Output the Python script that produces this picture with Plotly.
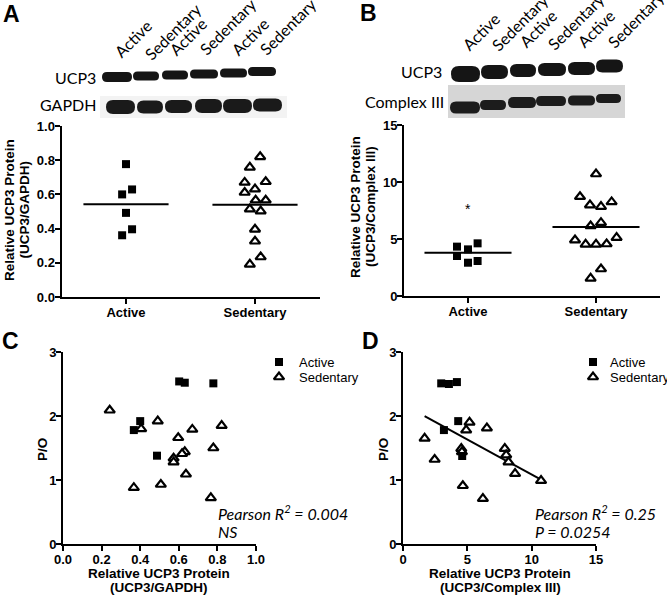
import numpy as np
import plotly.graph_objects as go

W, H = 667, 595

groups = ["Active", "Sedentary"]

# ---------------- Panel A : UCP3/GAPDH ----------------
a_active = [0.777, 0.600, 0.629, 0.492, 0.396, 0.361]
a_sed = [0.820, 0.758, 0.670, 0.674, 0.611, 0.631, 0.566, 0.566, 0.514, 0.502, 0.396, 0.326, 0.234, 0.191]
a_means = [0.543, 0.539]
a_active_off = [0.00, -0.03, 0.047, 0.00, 0.047, -0.03]
a_sed_off = [0.04, -0.04, -0.08, 0.083, -0.08, 0.0, 0.005, 0.083, -0.04, 0.044, 0.0, 0.0, 0.044, -0.04]

# ---------------- Panel B : UCP3/Complex III ----------------
b_active = [4.33, 4.09, 4.62, 3.51, 2.92, 3.07]
b_sed = [10.7, 8.71, 7.98, 7.84, 8.25, 6.43, 6.14, 4.91, 4.53, 4.53, 4.56, 5.12, 2.37, 1.55]
b_means = [3.80, 6.05]
b_star = 7.6
b_active_off = [-0.086, 0.0, 0.075, -0.086, 0.0, 0.075]
b_sed_off = [0.0, -0.125, -0.047, 0.039, 0.122, 0.039, -0.042, -0.164, -0.081, 0.0, 0.083, 0.161, 0.039, -0.042]

# ---------------- Panel C : P/O vs UCP3/GAPDH ----------------
c_active_x = [0.602, 0.631, 0.779, 0.400, 0.367, 0.487]
c_active_y = [2.54, 2.52, 2.51, 1.92, 1.78, 1.38]
c_sed_x = [0.242, 0.405, 0.491, 0.597, 0.670, 0.822, 0.631, 0.617, 0.573, 0.573, 0.779, 0.637, 0.507, 0.367, 0.766]
c_sed_y = [2.09, 1.80, 1.92, 1.66, 1.79, 1.85, 1.44, 1.41, 1.34, 1.28, 1.50, 1.09, 0.93, 0.88, 0.72]

# ---------------- Panel D : P/O vs UCP3/Complex III ----------------
d_active_x = [2.97, 3.57, 4.19, 4.29, 3.18, 4.60]
d_active_y = [2.51, 2.50, 2.53, 1.92, 1.78, 1.375]
d_sed_x = [1.68, 2.46, 4.53, 4.58, 4.91, 5.17, 6.52, 4.65, 6.21, 7.91, 8.02, 8.20, 8.71, 10.73]
d_sed_y = [1.65, 1.32, 1.49, 1.44, 1.78, 1.90, 1.81, 0.91, 0.71, 1.49, 1.39, 1.28, 1.10, 0.99]

c_stats = ["Pearson R<sup>2</sup> = 0.004", "NS"]
d_stats = ["Pearson R<sup>2</sup> = 0.25", "P = 0.0254"]

# ---------------- Western blot decoration (pixel units) ----------------
blot_a_ucp3_x = [(102, 132), (133, 159), (162, 188), (190, 218), (220, 247), (248, 276)]
blot_a_ucp3_y = [77, 76, 75, 74, 73, 71.5]
blot_a_ucp3_h = [10, 9, 9, 9, 9, 9]
blot_a_gapdh_x = [(106, 135), (137, 163), (165, 192), (195, 222), (223, 252), (253, 282)]
blot_a_gapdh_y = [107, 107, 106.5, 106, 106, 105]
blot_a_gapdh_h = [14, 13, 13, 14, 14, 13]
blot_b_ucp3_x = [(451, 480), (481, 508), (510, 536), (538, 566), (568, 595), (596, 623)]
blot_b_ucp3_y = [74, 72, 70.5, 69.5, 68.5, 66]
blot_b_ucp3_h = [16, 14, 13, 13, 13, 13]
blot_b_c3_x = [(450, 480), (480, 506), (508, 536), (536, 566), (568, 595), (596, 621)]
blot_b_c3_y = [107.5, 105, 102.5, 101, 100.5, 98.5]
blot_b_c3_h = [12, 10, 11, 10, 10, 9]

lane_labels = ["Active", "Sedentary", "Active", "Sedentary", "Active", "Sedentary"]
lane_a_start = [(113, 60), (143, 62), (168, 58), (198, 57), (230, 58), (258, 57)]
lane_b_start = [(461, 53), (490, 53), (518, 50), (546, 52), (576, 50), (606, 50)]

BOLD = "Liberation Sans"
CAL = "Lato"
black = "#000000"

fig = go.Figure()

sq = dict(symbol="square", size=8, color=black, line=dict(width=0))
tri = dict(symbol="triangle-up", size=9, color="white", line=dict(width=2.2, color=black))

# Panel A
fig.add_trace(go.Scatter(x=[0 + o for o in a_active_off], y=a_active, mode="markers", marker=sq,
                         xaxis="x", yaxis="y", showlegend=False, cliponaxis=False))
fig.add_trace(go.Scatter(x=[1 + o for o in a_sed_off], y=a_sed, mode="markers", marker=tri,
                         xaxis="x", yaxis="y", showlegend=False, cliponaxis=False))
for i, m in enumerate(a_means):
    fig.add_trace(go.Scatter(x=[i - 0.33, i + 0.33], y=[m, m], mode="lines",
                             line=dict(color=black, width=2), xaxis="x", yaxis="y", showlegend=False))

# Panel B
fig.add_trace(go.Scatter(x=[0 + o for o in b_active_off], y=b_active, mode="markers", marker=sq,
                         xaxis="x2", yaxis="y2", showlegend=False, cliponaxis=False))
fig.add_trace(go.Scatter(x=[1 + o for o in b_sed_off], y=b_sed, mode="markers", marker=tri,
                         xaxis="x2", yaxis="y2", showlegend=False, cliponaxis=False))
for i, m in enumerate(b_means):
    fig.add_trace(go.Scatter(x=[i - 0.34, i + 0.34], y=[m, m], mode="lines",
                             line=dict(color=black, width=2), xaxis="x2", yaxis="y2", showlegend=False))

# Panel C
fig.add_trace(go.Scatter(x=c_sed_x, y=c_sed_y, mode="markers", marker=tri,
                         xaxis="x3", yaxis="y3", showlegend=False, cliponaxis=False))
fig.add_trace(go.Scatter(x=c_active_x, y=c_active_y, mode="markers", marker=sq,
                         xaxis="x3", yaxis="y3", showlegend=False, cliponaxis=False))

# Panel D
dx = np.array(d_active_x + d_sed_x)
dy = np.array(d_active_y + d_sed_y)
slope, intercept = np.polyfit(dx, dy, 1)
fx = np.array([dx.min(), dx.max()])
fig.add_trace(go.Scatter(x=fx, y=slope * fx + intercept, mode="lines", line=dict(color=black, width=2),
                         xaxis="x4", yaxis="y4", showlegend=False))
fig.add_trace(go.Scatter(x=d_sed_x, y=d_sed_y, mode="markers", marker=tri,
                         xaxis="x4", yaxis="y4", showlegend=False, cliponaxis=False))
fig.add_trace(go.Scatter(x=d_active_x, y=d_active_y, mode="markers", marker=sq,
                         xaxis="x4", yaxis="y4", showlegend=False, cliponaxis=False))

# Legend keys (pixel overlay)
for lx in (279, 593):
    fig.add_trace(go.Scatter(x=[lx], y=[362], mode="markers", marker=sq, xaxis="x5", yaxis="y5",
                             showlegend=False, cliponaxis=False))
    fig.add_trace(go.Scatter(x=[lx], y=[377], mode="markers", marker=tri, xaxis="x5", yaxis="y5",
                             showlegend=False, cliponaxis=False))


def px_dom(a, b, total):
    return [a / total, b / total]


def vdom(top, bottom):
    return [1 - bottom / H, 1 - top / H]


axis_common = dict(showline=True, linecolor=black, linewidth=2, ticks="outside", ticklen=5, tickwidth=2,
                   tickcolor=black, showgrid=False, zeroline=False, automargin=False,
                   ticklabelstandoff=-3,
                   tickfont=dict(family=BOLD, size=13, color=black, weight="bold"))

fig.update_layout(
    template="none",
    width=W, height=H, margin=dict(l=0, r=0, t=0, b=0, pad=0, autoexpand=False),
    paper_bgcolor="white", plot_bgcolor="rgba(0,0,0,0)", showlegend=False,
    xaxis=dict(domain=px_dom(61.5, 319.5, W), range=[-0.5, 1.5], tickvals=[0, 1], ticktext=groups,
               anchor="y", **axis_common),
    yaxis=dict(domain=vdom(126, 297), range=[0, 1], dtick=0.2, tickformat=".1f", anchor="x", **axis_common),
    xaxis2=dict(domain=px_dom(404, 660, W), range=[-0.5, 1.5], tickvals=[0, 1], ticktext=groups,
                anchor="y2", **axis_common),
    yaxis2=dict(domain=vdom(125, 296), range=[0, 15], dtick=5, anchor="x2", **axis_common),
    xaxis3=dict(domain=px_dom(63, 256, W), range=[0, 1], dtick=0.2, tickformat=".1f", anchor="y3", **axis_common),
    yaxis3=dict(domain=vdom(352, 544), range=[0, 3], dtick=1, anchor="x3", **axis_common),
    xaxis4=dict(domain=px_dom(403, 596, W), range=[0, 15], dtick=5, anchor="y4", **axis_common),
    yaxis4=dict(domain=vdom(352, 544), range=[0, 3], dtick=1, anchor="x4", **axis_common),
    xaxis5=dict(domain=[0, 1], range=[0, W], visible=False, anchor="y5", fixedrange=True, automargin=False),
    yaxis5=dict(domain=[0, 1], range=[H, 0], visible=False, anchor="x5", fixedrange=True, automargin=False),
)

shapes = []


def capsule(x0, x1, yc, h, color="#151515"):
    r = h / 2.0
    y0, y1 = yc - r, yc + r
    rr = min(r, (x1 - x0) / 2.0)
    p = (f"M {x0 + rr},{y0} L {x1 - rr},{y0} Q {x1},{y0} {x1},{yc} Q {x1},{y1} {x1 - rr},{y1} "
         f"L {x0 + rr},{y1} Q {x0},{y1} {x0},{yc} Q {x0},{y0} {x0 + rr},{y0} Z")
    return dict(type="path", path=p, xref="x5", yref="y5", fillcolor=color, line=dict(width=0), layer="above")


# light background strip behind GAPDH, gray film behind Complex III
shapes.append(dict(type="rect", x0=100, x1=287, y0=96, y1=118, xref="x5", yref="y5",
                   fillcolor="#f3f3f3", line=dict(width=0), layer="below"))
shapes.append(dict(type="rect", x0=448, x1=625, y0=85, y1=118, xref="x5", yref="y5",
                   fillcolor="#d6d6d6", line=dict(width=0), layer="below"))
for (x0, x1), yc, h in zip(blot_a_ucp3_x, blot_a_ucp3_y, blot_a_ucp3_h):
    shapes.append(capsule(x0, x1, yc, h))
for (x0, x1), yc, h in zip(blot_a_gapdh_x, blot_a_gapdh_y, blot_a_gapdh_h):
    shapes.append(capsule(x0, x1, yc, h, "#1a1a1a"))
for (x0, x1), yc, h in zip(blot_b_ucp3_x, blot_b_ucp3_y, blot_b_ucp3_h):
    shapes.append(capsule(x0, x1, yc, h))
for (x0, x1), yc, h in zip(blot_b_c3_x, blot_b_c3_y, blot_b_c3_h):
    shapes.append(capsule(x0, x1, yc, h, "#1c1c1c"))
fig.update_layout(shapes=shapes)

ann = []


def txt(x, y, s, size=13, family=BOLD, bold=True, italic=False, angle=0, xa="center", ya="middle"):
    f = dict(family=family, size=size, color=black)
    if bold:
        f["weight"] = "bold"
    if italic:
        f["style"] = "italic"
    ann.append(dict(x=x, y=y, xref="x5", yref="y5", text=s, showarrow=False, font=f, textangle=angle,
                    xanchor=xa, yanchor=ya, borderpad=0))


# panel letters
txt(11, 14, "A", size=23)
txt(368, 13, "B", size=23)
txt(10, 341, "C", size=23)
txt(370, 341, "D", size=23)

# blot labels
txt(97, 77, "UCP3", size=16, family=CAL, bold=False, xa="right")
txt(97, 104, "GAPDH", size=16, family=CAL, bold=False, xa="right")
txt(443, 71, "UCP3", size=16, family=CAL, bold=False, xa="right")
txt(445, 101, "Complex III", size=16, family=CAL, bold=False, xa="right")
for lab, (sx, sy) in zip(lane_labels, lane_a_start):
    txt(sx - 4, sy + 3, lab, size=16, family=CAL, bold=False, angle=-45, xa="left", ya="bottom")
for lab, (sx, sy) in zip(lane_labels, lane_b_start):
    txt(sx - 4, sy + 3, lab, size=16, family=CAL, bold=False, angle=-45, xa="left", ya="bottom")

# axis titles
txt(9, 210, "Relative UCP3 Protein", size=13.5, angle=-90)
txt(23.5, 210, "(UCP3/GAPDH)", size=13.5, angle=-90)
txt(355, 207, "Relative UCP3 Protein", size=13.5, angle=-90)
txt(370, 207, "(UCP3/Complex III)", size=13.5, angle=-90)
txt(42, 450, "P/O", size=13.5, angle=-90)
txt(383, 450, "P/O", size=13.5, angle=-90)
txt(159, 573.5, "Relative UCP3 Protein", size=13.5)
txt(159, 587, "(UCP3/GAPDH)", size=13.5)
txt(500, 573.5, "Relative UCP3 Protein", size=13.5)
txt(500, 587, "(UCP3/Complex III)", size=13.5)

# legends
for lx in (298, 609):
    txt(lx, 362, "Active", size=13, bold=False, xa="left")
    txt(lx, 377, "Sedentary", size=13, bold=False, xa="left")

# stats text
txt(217, 512, c_stats[0], size=16, family=CAL, bold=False, italic=True, xa="left")
txt(217, 531, c_stats[1], size=16, family=CAL, bold=False, italic=True, xa="left")
txt(534, 512, d_stats[0], size=16, family=CAL, bold=False, italic=True, xa="left")
txt(534, 531, d_stats[1], size=16, family=CAL, bold=False, italic=True, xa="left")

fig.update_layout(annotations=ann)

# significance star (data coordinates)
fig.add_annotation(x=0, y=b_star, xref="x2", yref="y2", text="*", showarrow=False,
                   font=dict(family=BOLD, size=14, color=black))

fig.write_html("out.html", config={"displayModeBar": False, "staticPlot": True},
               post_script="document.body.style.margin='0px';document.body.style.overflow='hidden';")
